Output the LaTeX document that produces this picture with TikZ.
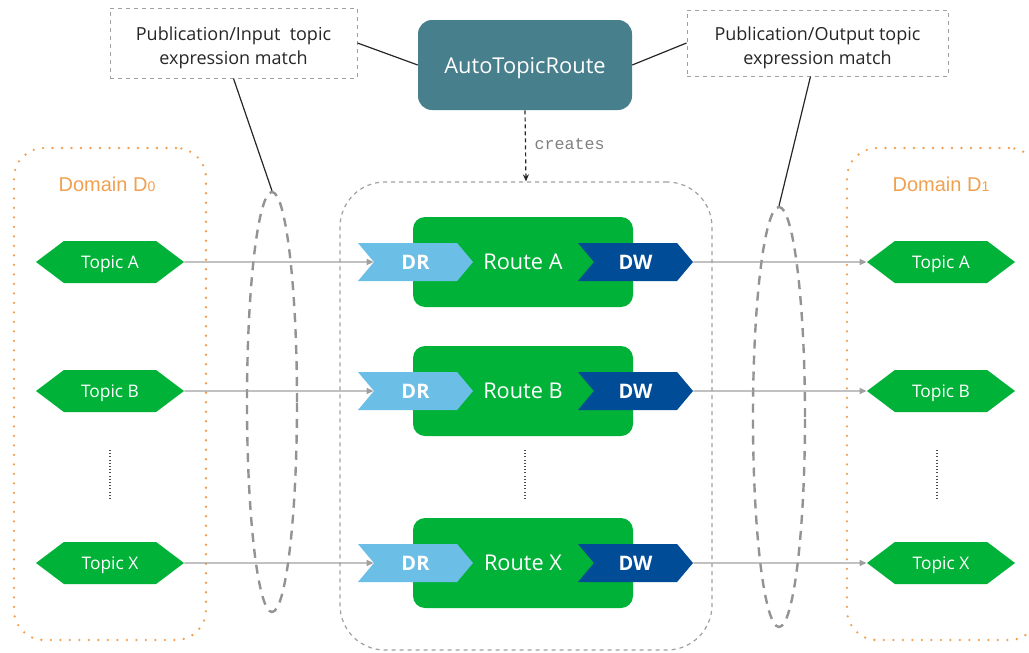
\documentclass[tikz,border=0pt]{standalone}
\usepackage{fontspec}
\setmainfont{Open Sans}
\newfontfamily\arialf{Liberation Sans}
\newfontfamily\monof{Liberation Mono}
\usetikzlibrary{shapes.symbols,shapes.geometric,arrows.meta,calc}
\definecolor{autoteal}{RGB}{71,127,140}
\definecolor{rtigreen}{RGB}{0,178,56}
\definecolor{lblue}{RGB}{107,190,230}
\definecolor{dblue}{RGB}{0,76,151}
\definecolor{dorange}{RGB}{240,160,80}
\definecolor{lgray}{RGB}{160,160,160}
\def\px{0.75pt}
\tikzset{
  notebox/.style={draw=lgray, dashed, line width=1*\px, align=center, font=\fontsize{13.5pt}{18pt}\selectfont, text=black!85},
  autobox/.style={fill=autoteal, rounded corners=14*\px, text=white, text depth=0pt, font=\fontsize{16.4pt}{18pt}\selectfont},
  container/.style={draw=lgray, dashed, line width=1.2*\px, rounded corners=45*\px},
  dombox/.style={draw=dorange, line width=2.6*\px, line cap=round, dash pattern=on 0pt off 9.5*\px, rounded corners=30*\px},
  domlabel/.style={text=dorange, font=\arialf\fontsize{15pt}{18pt}\selectfont},
  matchell/.style={ellipse, draw=gray!85, line width=2.4*\px, dash pattern=on 9*\px off 7*\px},
  topic/.style={signal, signal to=east and west, signal pointer angle=74, fill=rtigreen, text=white, minimum width=148*\px, minimum height=42*\px, inner sep=0pt, text depth=0pt, font=\fontsize{13pt}{14pt}\selectfont},
  routebox/.style={fill=rtigreen, rounded corners=12*\px, minimum width=220*\px, minimum height=90*\px, text=white, text depth=0pt, font=\fontsize{16.3pt}{18pt}\selectfont},
  drsig/.style={signal, signal from=west, signal to=east, signal pointer angle=100, fill=lblue, text=white, minimum width=115*\px, minimum height=38*\px, inner sep=0pt, text depth=0pt, font=\bfseries\fontsize{15pt}{16pt}\selectfont},
  dwsig/.style={drsig, fill=dblue},
  flow/.style={draw=gray!75, line width=1.4*\px, -{Triangle[length=7*\px, width=6*\px]}},
  leader/.style={draw=black!85, line width=1.2*\px},
  vdots/.style={draw=black!70, line width=1.2*\px, dash pattern=on 1*\px off 2.2*\px}
}
\begin{document}
\begin{tikzpicture}[x=0.75pt,y=-0.75pt]
\useasboundingbox (0,0) rectangle (1029,653);
\clip (0,0) rectangle (1029,653);
% domains
\node[dombox, minimum width=192*\px, minimum height=492*\px] (d0) at (110,394) {};
\node[dombox, minimum width=192*\px, minimum height=492*\px] (d1) at (943,394) {};
\node[domlabel] (d0lab) at (107,184) {Domain D{\fontsize{10.5pt}{10pt}\selectfont 0}};
\node[domlabel] (d1lab) at (941,184) {Domain D{\fontsize{10.5pt}{10pt}\selectfont 1}};
% container
\node[container, minimum width=372*\px, minimum height=468*\px] (routes) at (526,416) {};
% match ellipses
\node[matchell, minimum width=50*\px, minimum height=420*\px] (ell0) at (272,402) {};
\node[matchell, minimum width=52*\px, minimum height=420*\px] (ell1) at (779,417) {};
% top boxes
\node[notebox, minimum width=247*\px, minimum height=70*\px] (inbox) at (233.5,43) {\rule{0pt}{17pt}Publication/Input\ \ topic\\expression match};
\node[autobox, minimum width=214*\px, minimum height=90*\px] (auto) at (525,65) {AutoTopicRoute};
\node[notebox, minimum width=261*\px, minimum height=66*\px] (outbox) at (817.5,43) {\rule{0pt}{17pt}Publication/Output topic\\expression match};
\draw[leader] (inbox.east) -- (auto.west);
\draw[leader] (auto.east) -- (outbox.west);
\draw[leader] (inbox.south) -- (ell0.north);
\draw[leader] ($(outbox.south)+(-7,0)$) -- (ell1.north);
\draw[draw=black!85, line width=1.2*\px, dash pattern=on 4*\px off 3*\px, -{Stealth[length=7*\px, width=6*\px]}] (auto.south) -- node[right, xshift=4*\px, yshift=2*\px, text=gray, font=\monof\fontsize{12.5pt}{14pt}\selectfont] (createslab) {creates} (routes.north);
% rows
\foreach \r/\y in {A/262, B/391, X/563}{
  \node[topic] (tl\r) at (110,\y) {Topic \r};
  \node[topic] (tr\r) at (941,\y) {Topic \r};
  \node[routebox] (rt\r) at (523,\y) {Route \r};
  \node[drsig] (dr\r) at (415.5,\y) {DR};
  \node[dwsig] (dw\r) at (635.5,\y) {DW};
  \draw[flow] (tl\r) -- (dr\r);
  \draw[flow] (dw\r) -- (tr\r);
}
% vertical dots
\draw[vdots] (110,450) -- (110,500);
\draw[vdots] (525,450) -- (525,500);
\draw[vdots] (937,450) -- (937,500);
\end{tikzpicture}
\end{document}
